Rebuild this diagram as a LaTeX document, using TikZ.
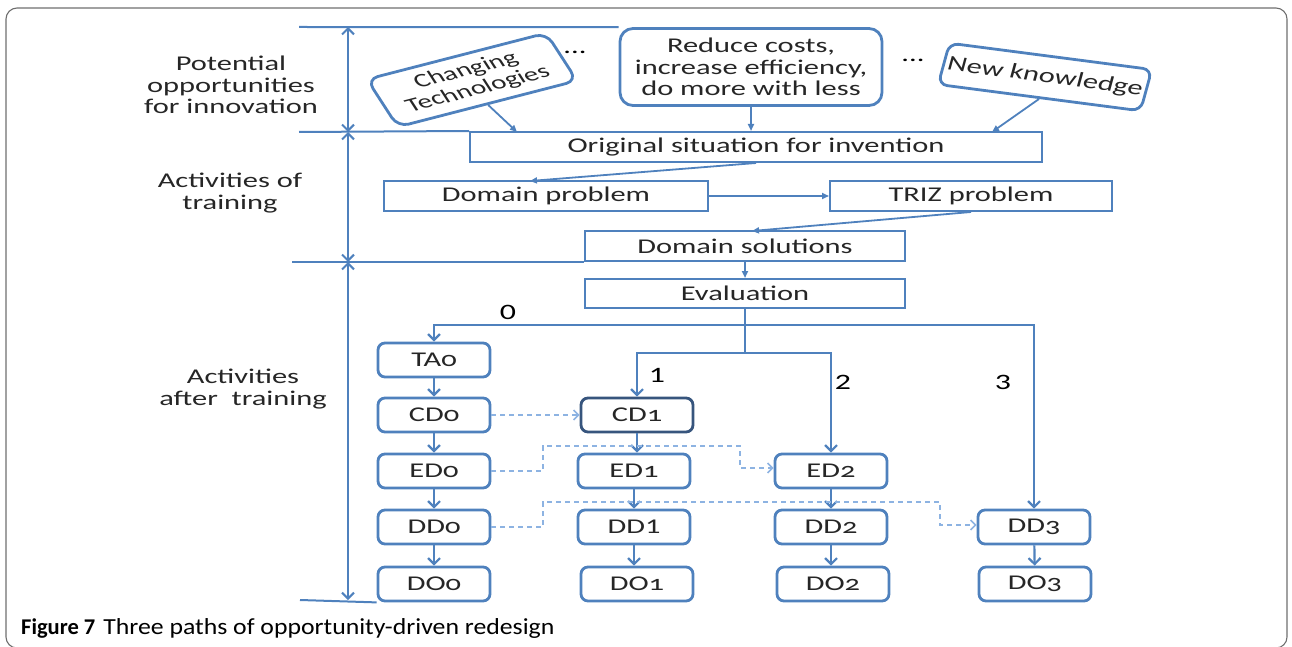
\documentclass[tikz,border=0pt]{standalone}
\usepackage{fontspec}
\setmainfont{Carlito}
\newfontfamily\dfont{Carlito}[FakeStretch=1.45]
\newfontfamily\dosf{Carlito}[FakeStretch=1.45,Numbers=OldStyle]
\newfontfamily\rfont{Carlito}
\newfontfamily\capfont{Carlito}[FakeStretch=1.12]
\usetikzlibrary{arrows.meta,calc}
\definecolor{lineblue}{RGB}{79,129,189}
\definecolor{dashblue}{RGB}{141,179,226}
\definecolor{cdedge}{RGB}{55,85,125}
\definecolor{txt}{RGB}{38,38,38}
\definecolor{framegray}{RGB}{110,110,110}

\begin{document}
\begin{tikzpicture}[x=1pt,y=-1pt,
  every node/.style={text=txt},
  dtext/.style={font=\dfont\fontsize{21pt}{21.5pt}\selectfont},
  flatbox/.style={dtext, draw=lineblue, line width=2pt, inner sep=0pt,
    minimum height=30pt},
  roundbox/.style={draw=lineblue, line width=2.8pt, rounded corners=13pt,
    inner sep=0pt, align=center},
  colbox/.style={font=\dosf\fontsize{21pt}{21.5pt}\selectfont, draw=lineblue,
    line width=2.8pt, rounded corners=7pt, minimum width=112pt,
    minimum height=34pt, inner sep=0pt, fill=white},
  sidelabel/.style={dtext, align=center},
  pathnum/.style={font=\dfont\fontsize{22pt}{22pt}\selectfont, text=black},
  rule/.style={draw=lineblue, line width=2pt},
  span/.style={rule, {Straight Barb[length=6pt,width=12pt]}-{Straight Barb[length=6pt,width=12pt]}},
  feed/.style={draw=lineblue, line width=1.8pt, -{Triangle[length=7pt,width=6pt]}},
  branch/.style={draw=lineblue, line width=2.2pt, -{Straight Barb[length=6pt,width=12pt]}},
  jump/.style={draw=dashblue, line width=1.5pt, dash pattern=on 5pt off 4pt,
    -{Straight Barb[length=5pt,width=10pt]}},
]
\useasboundingbox (0,0) rectangle (1292,647);

% outer frame
\draw[framegray, line width=1.1pt, rounded corners=11pt] (6,8) rectangle (1287,648);

% phase labels
\node[sidelabel] (lblA) at (231,85) {Potential\\opportunities\\for innovation};
\node[sidelabel] (lblB) at (230,193) {Activities of\\training};
\node[sidelabel] (lblC) at (243,389) {Activities\\after\ \ training};

% opportunity sources
\node[roundbox, dtext, minimum width=262pt, minimum height=77pt] (reduce) at (751,67)
  {Reduce costs,\\increase efficiency,\\do more with less};
\begin{scope}[shift={(472,80)}, cm={1.28,0.33,-0.55,0.85,(0,0)}, transform shape]
  \node[roundbox, rounded corners=11pt, font=\rfont\fontsize{21pt}{22pt}\selectfont,
    minimum width=140pt, minimum height=56pt] (chg) at (0,0) {Changing\\Technologies};
\end{scope}
\begin{scope}[shift={(1045,77)}, cm={1.4248,-0.1857,0.2693,0.9826,(0,0)}, transform shape]
  \node[roundbox, rounded corners=9pt, font=\rfont\fontsize{21pt}{21pt}\selectfont,
    minimum width=142pt, minimum height=42pt] (newk) at (0,0) {New knowledge};
\end{scope}
\node[dtext, text=black] (dotsA) at (575,52) {...};
\node[dtext, text=black] (dotsB) at (913,60) {...};

% training chain
\node[flatbox, minimum width=572pt] (orig) at (756,147) {Original situation for invention};
\node[flatbox, minimum width=324pt] (dprob) at (546,196) {Domain problem};
\node[flatbox, minimum width=282pt] (triz) at (971,196) {TRIZ problem};
\node[flatbox, minimum width=320pt] (dsol) at (745,246) {Domain solutions};
\node[flatbox, minimum width=320pt, minimum height=29pt] (eval) at (745,293.5) {Evaluation};

% paths after training
\node[colbox] (ta0) at (434,360) {TA0};
\node[colbox] (cd0) at (434,415) {CD0};
\node[colbox] (ed0) at (434,471) {ED0};
\node[colbox] (dd0) at (434,527) {DD0};
\node[colbox] (do0) at (434,584) {DO0};
\node[colbox, draw=cdedge] (cd1) at (637,415) {CD1};
\node[colbox] (ed1) at (634,471) {ED1};
\node[colbox, font=\dfont\fontsize{21pt}{21.5pt}\selectfont] (dd1) at (634,527) {DD1};
\node[colbox] (do1) at (637,584) {DO1};
\node[colbox] (ed2) at (831,471) {ED2};
\node[colbox] (dd2) at (831,527) {DD2};
\node[colbox] (do2) at (833,584) {DO2};
\node[colbox] (dd3) at (1034,527) {DD3};
\node[colbox] (do3) at (1035,584) {DO3};

\node[pathnum] (n0) at (508,312) {0};
\node[pathnum] (n1) at (657,375) {1};
\node[pathnum] (n2) at (843,382) {2};
\node[pathnum] (n3) at (1003,382) {3};

% phase separators and spans
\coordinate (s0) at (299,27);
\coordinate (s1) at (299,132);
\coordinate (s2) at (292,262);
\coordinate (s3) at (300,600);
\coordinate (v0) at (348,27);
\coordinate (v1) at (348,132);
\coordinate (v2) at (348,262);
\coordinate (v3) at (348,600);
\draw[rule] (s0) -- (reduce.north west);
\draw[rule] (s1) -- (orig.north west);
\draw[rule] (s2) -- (dsol.south west);
\draw[rule] (s3) -- (do0.south west);
\draw[span] (v0) -- (v1);
\draw[span] (v1) -- (v2);
\draw[span] (v2) -- (v3);

% feeds into the original situation
\coordinate (inA) at (517,132);
\coordinate (inC) at (992,132);
\draw[feed] (chg.south) -- (inA);
\draw[feed] (reduce.south) -- (reduce.south |- orig.north);
\draw[feed] (newk.south) -- (inC);

% training flow
\coordinate (inD) at (530,181);
\coordinate (inS) at (752,231);
\draw[feed] (orig.south) -- (inD);
\draw[feed] (dprob.east) -- (triz.west);
\draw[feed] (triz.south) -- (inS);
\draw[feed] (dsol.south) -- (eval.north);

% evaluation branches
\coordinate (b0) at (745,325);
\coordinate (b1) at (745,353);
\draw[rule] (eval.south) -- (b1);
\draw[branch] (b0) -| (ta0.north);
\draw[branch] (b0) -| (dd3.north);
\draw[branch] (b1) -| (cd1.north);
\draw[branch] (b1) -| (ed2.north);

% steps within each path
\draw[branch] (ta0) -- (cd0);
\draw[branch] (cd0) -- (ed0);
\draw[branch] (ed0) -- (dd0);
\draw[branch] (dd0) -- (do0);
\draw[branch] (cd1.south) -- (cd1.south |- ed1.north);
\draw[branch] (ed1) -- (dd1);
\draw[branch] (dd1.south) -- (dd1.south |- do1.north);
\draw[branch] (ed2) -- (dd2);
\draw[branch] (dd2.south) -- (dd2.south |- do2.north);
\draw[branch] (dd3) -- (do3);

% cross-path jumps
\draw[jump] (cd0) -- (cd1);
\draw[jump] (ed0.east) -- (543,471) -- (543,446) -- (740,446) -- (740,468) -- (ed2.west |- 740,468);
\draw[jump] (dd0.east) -- (543,527) -- (543,502) -- (940,502) -- (940,525) -- (dd3.west |- 940,525);

% caption
\node[anchor=base west, text=black, inner sep=0pt] (cap) at (21,634)
  {\fontsize{22.5pt}{23pt}\selectfont\textbf{Figure 7}\hspace{8pt}{\capfont\fontsize{23pt}{23pt}\selectfont Three paths of opportunity-driven redesign}};
\end{tikzpicture}
\end{document}
